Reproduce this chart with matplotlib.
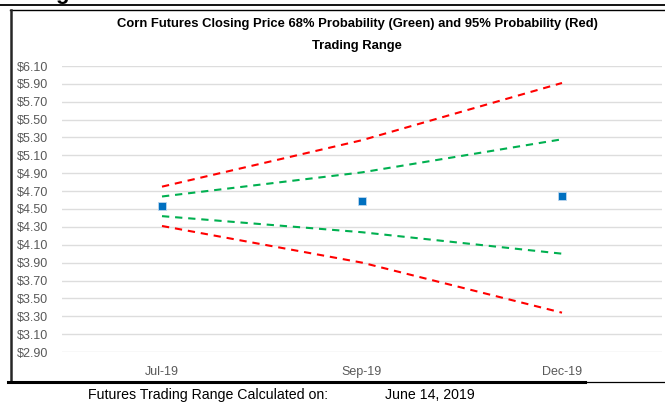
import matplotlib
matplotlib.use("Agg")
import matplotlib.pyplot as plt
from matplotlib.lines import Line2D

plt.rcParams['font.family'] = ['Liberation Sans', 'DejaVu Sans']

# data
months = ["Jul-19", "Sep-19", "Dec-19"]
close = [4.53, 4.585, 4.64]
upper68 = [4.64, 4.91, 5.28]
lower68 = [4.42, 4.24, 4.00]
upper95 = [4.75, 5.27, 5.91]
lower95 = [4.31, 3.90, 3.34]
yticks = [2.90 + 0.20 * i for i in range(17)]

W, H = 665, 404
fig = plt.figure(figsize=(W / 100, H / 100), dpi=100)
ax = fig.add_axes([62 / W, 1 - 352 / H, 600 / W, 286 / H])

x = list(range(len(months)))
dash = (0, (3.5, 2.8))
ax.plot(x, upper95, color="#FF0000", lw=1.5, linestyle=dash)
ax.plot(x, lower95, color="#FF0000", lw=1.5, linestyle=dash)
ax.plot(x, upper68, color="#00B050", lw=1.5, linestyle=dash)
ax.plot(x, lower68, color="#00B050", lw=1.5, linestyle=dash)
ax.plot(x, close, linestyle="none", marker="s", markersize=5.5,
        color="#0070C0", markeredgecolor="#BDD7EE", markeredgewidth=0.6, zorder=5)

ax.set_xlim(-0.5, 2.5)
ax.set_ylim(2.9, 6.1)
ax.set_yticks(yticks)
ax.set_yticklabels([f"${v:.2f}" for v in yticks])
ax.set_xticks(x)
ax.set_xticklabels(months)
ax.tick_params(axis="both", length=0, colors="#595959", labelsize=9)
ax.tick_params(axis="y", pad=10)
ax.tick_params(axis="x", pad=10)
ax.grid(axis="y", color="#DDDDDD", lw=1)
ax.set_axisbelow(True)
for s in ax.spines.values():
    s.set_visible(False)

fig.text(357 / W, 1 - 23.5 / H, "Corn Futures Closing Price 68% Probability (Green) and 95% Probability (Red)",
         ha="center", va="center", fontsize=9.4, weight="bold")
fig.text(357 / W, 1 - 45.5 / H, "Trading Range", ha="center", va="center", fontsize=9.4, weight="bold")

# frame and surrounding page bits
fig.add_artist(Line2D([0, 1], [1 - 5 / H, 1 - 5 / H], color="black", lw=1.3))
fig.add_artist(Line2D([10 / W, 1], [1 - 9.5 / H, 1 - 9.5 / H], color="black", lw=1.0))
fig.add_artist(Line2D([11 / W, 11 / W], [1 - 9.5 / H, 1 - 382 / H], color="#262626", lw=1.8))
fig.add_artist(Line2D([8 / W, 585 / W], [1 - 382 / H, 1 - 382 / H], color="black", lw=2.2))
fig.add_artist(Line2D([585 / W, 1], [1 - 382 / H, 1 - 382 / H], color="black", lw=0.9))
fig.text(55 / W, 1 + 1.5 / H, "g", fontsize=16, weight="bold", va="baseline", ha="left")

fig.text(88 / W, 1 - 395 / H, "Futures Trading Range Calculated on:", fontsize=10.2, va="center")
fig.text(385 / W, 1 - 395 / H, "June 14, 2019", fontsize=10.2, va="center")

fig.savefig("out.png", dpi=100)
